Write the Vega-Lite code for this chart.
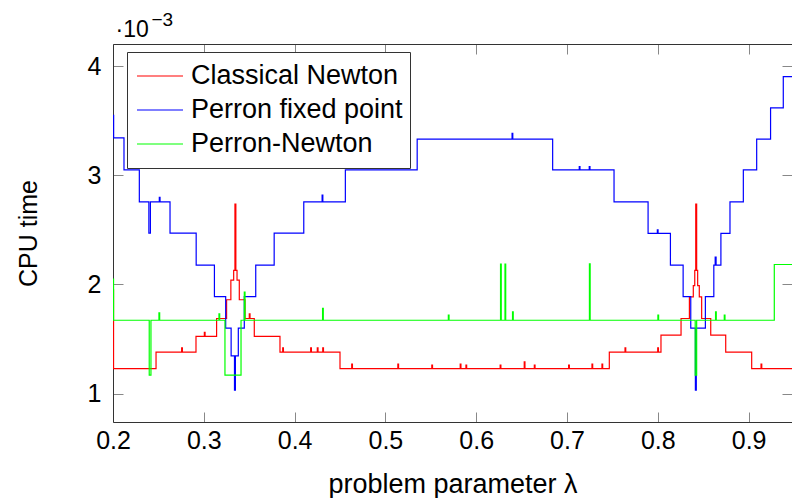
{
  "$schema": "https://vega.github.io/schema/vega-lite/v6.json",
  "width": 679,
  "height": 378,
  "autosize": {"type": "none"},
  "padding": {"left": 113, "top": 44, "right": 0, "bottom": 76},
  "background": "white",
  "view": {"stroke": null},
  "config": {"font": "Liberation Sans"},
  "data": {"values": [
    {"method": "Classical Newton", "lambda": 0.2, "cpu": 0.00195},
    {"method": "Classical Newton", "lambda": 0.2006, "cpu": 0.001229},
    {"method": "Classical Newton", "lambda": 0.2474, "cpu": 0.00138},
    {"method": "Classical Newton", "lambda": 0.2756, "cpu": 0.00142},
    {"method": "Classical Newton", "lambda": 0.2764, "cpu": 0.00138},
    {"method": "Classical Newton", "lambda": 0.2914, "cpu": 0.001525},
    {"method": "Classical Newton", "lambda": 0.3006, "cpu": 0.00156},
    {"method": "Classical Newton", "lambda": 0.3014, "cpu": 0.001525},
    {"method": "Classical Newton", "lambda": 0.3141, "cpu": 0.001688},
    {"method": "Classical Newton", "lambda": 0.3251, "cpu": 0.00186},
    {"method": "Classical Newton", "lambda": 0.3298, "cpu": 0.00204},
    {"method": "Classical Newton", "lambda": 0.3329, "cpu": 0.00213},
    {"method": "Classical Newton", "lambda": 0.3343, "cpu": 0.002737},
    {"method": "Classical Newton", "lambda": 0.3353, "cpu": 0.00213},
    {"method": "Classical Newton", "lambda": 0.3366, "cpu": 0.00204},
    {"method": "Classical Newton", "lambda": 0.3391, "cpu": 0.00186},
    {"method": "Classical Newton", "lambda": 0.3454, "cpu": 0.001688},
    {"method": "Classical Newton", "lambda": 0.3501, "cpu": 0.00173},
    {"method": "Classical Newton", "lambda": 0.3509, "cpu": 0.001688},
    {"method": "Classical Newton", "lambda": 0.3556, "cpu": 0.001525},
    {"method": "Classical Newton", "lambda": 0.3839, "cpu": 0.00138},
    {"method": "Classical Newton", "lambda": 0.3869, "cpu": 0.00142},
    {"method": "Classical Newton", "lambda": 0.3877, "cpu": 0.00138},
    {"method": "Classical Newton", "lambda": 0.4177, "cpu": 0.00142},
    {"method": "Classical Newton", "lambda": 0.4185, "cpu": 0.00138},
    {"method": "Classical Newton", "lambda": 0.425, "cpu": 0.00142},
    {"method": "Classical Newton", "lambda": 0.4258, "cpu": 0.00138},
    {"method": "Classical Newton", "lambda": 0.431, "cpu": 0.00142},
    {"method": "Classical Newton", "lambda": 0.4318, "cpu": 0.00138},
    {"method": "Classical Newton", "lambda": 0.45, "cpu": 0.001229},
    {"method": "Classical Newton", "lambda": 0.4629, "cpu": 0.00127},
    {"method": "Classical Newton", "lambda": 0.4637, "cpu": 0.001229},
    {"method": "Classical Newton", "lambda": 0.5137, "cpu": 0.00127},
    {"method": "Classical Newton", "lambda": 0.5145, "cpu": 0.001229},
    {"method": "Classical Newton", "lambda": 0.5511, "cpu": 0.00126},
    {"method": "Classical Newton", "lambda": 0.5519, "cpu": 0.001229},
    {"method": "Classical Newton", "lambda": 0.5824, "cpu": 0.00127},
    {"method": "Classical Newton", "lambda": 0.5832, "cpu": 0.001229},
    {"method": "Classical Newton", "lambda": 0.5887, "cpu": 0.00126},
    {"method": "Classical Newton", "lambda": 0.5895, "cpu": 0.001229},
    {"method": "Classical Newton", "lambda": 0.6264, "cpu": 0.00126},
    {"method": "Classical Newton", "lambda": 0.6272, "cpu": 0.001229},
    {"method": "Classical Newton", "lambda": 0.6529, "cpu": 0.00129},
    {"method": "Classical Newton", "lambda": 0.6537, "cpu": 0.001229},
    {"method": "Classical Newton", "lambda": 0.664, "cpu": 0.00126},
    {"method": "Classical Newton", "lambda": 0.6648, "cpu": 0.001229},
    {"method": "Classical Newton", "lambda": 0.7018, "cpu": 0.00126},
    {"method": "Classical Newton", "lambda": 0.7026, "cpu": 0.001229},
    {"method": "Classical Newton", "lambda": 0.7275, "cpu": 0.00127},
    {"method": "Classical Newton", "lambda": 0.7283, "cpu": 0.001229},
    {"method": "Classical Newton", "lambda": 0.7385, "cpu": 0.00127},
    {"method": "Classical Newton", "lambda": 0.7393, "cpu": 0.001229},
    {"method": "Classical Newton", "lambda": 0.7466, "cpu": 0.00138},
    {"method": "Classical Newton", "lambda": 0.7639, "cpu": 0.00142},
    {"method": "Classical Newton", "lambda": 0.7647, "cpu": 0.00138},
    {"method": "Classical Newton", "lambda": 0.7999, "cpu": 0.00142},
    {"method": "Classical Newton", "lambda": 0.8007, "cpu": 0.00138},
    {"method": "Classical Newton", "lambda": 0.8035, "cpu": 0.001535},
    {"method": "Classical Newton", "lambda": 0.8256, "cpu": 0.001688},
    {"method": "Classical Newton", "lambda": 0.8348, "cpu": 0.001886},
    {"method": "Classical Newton", "lambda": 0.8391, "cpu": 0.00199},
    {"method": "Classical Newton", "lambda": 0.8407, "cpu": 0.00213},
    {"method": "Classical Newton", "lambda": 0.8418, "cpu": 0.002737},
    {"method": "Classical Newton", "lambda": 0.8428, "cpu": 0.00213},
    {"method": "Classical Newton", "lambda": 0.8439, "cpu": 0.00199},
    {"method": "Classical Newton", "lambda": 0.8457, "cpu": 0.001886},
    {"method": "Classical Newton", "lambda": 0.8483, "cpu": 0.001688},
    {"method": "Classical Newton", "lambda": 0.8583, "cpu": 0.001535},
    {"method": "Classical Newton", "lambda": 0.8748, "cpu": 0.00138},
    {"method": "Classical Newton", "lambda": 0.9034, "cpu": 0.001229},
    {"method": "Classical Newton", "lambda": 0.9137, "cpu": 0.00127},
    {"method": "Classical Newton", "lambda": 0.9145, "cpu": 0.001229},
    {"method": "Classical Newton", "lambda": 0.9478, "cpu": 0.001229},

    {"method": "Perron fixed point", "lambda": 0.2, "cpu": 0.00355},
    {"method": "Perron fixed point", "lambda": 0.2007, "cpu": 0.003345},
    {"method": "Perron fixed point", "lambda": 0.2121, "cpu": 0.00305},
    {"method": "Perron fixed point", "lambda": 0.229, "cpu": 0.002758},
    {"method": "Perron fixed point", "lambda": 0.2395, "cpu": 0.00247},
    {"method": "Perron fixed point", "lambda": 0.2412, "cpu": 0.002758},
    {"method": "Perron fixed point", "lambda": 0.251, "cpu": 0.0028},
    {"method": "Perron fixed point", "lambda": 0.2518, "cpu": 0.002758},
    {"method": "Perron fixed point", "lambda": 0.2628, "cpu": 0.00247},
    {"method": "Perron fixed point", "lambda": 0.2916, "cpu": 0.002177},
    {"method": "Perron fixed point", "lambda": 0.3117, "cpu": 0.001888},
    {"method": "Perron fixed point", "lambda": 0.3241, "cpu": 0.001599},
    {"method": "Perron fixed point", "lambda": 0.3301, "cpu": 0.001345},
    {"method": "Perron fixed point", "lambda": 0.3338, "cpu": 0.00103},
    {"method": "Perron fixed point", "lambda": 0.3348, "cpu": 0.001345},
    {"method": "Perron fixed point", "lambda": 0.338, "cpu": 0.001599},
    {"method": "Perron fixed point", "lambda": 0.3446, "cpu": 0.001888},
    {"method": "Perron fixed point", "lambda": 0.3572, "cpu": 0.002177},
    {"method": "Perron fixed point", "lambda": 0.3775, "cpu": 0.00247},
    {"method": "Perron fixed point", "lambda": 0.4101, "cpu": 0.002758},
    {"method": "Perron fixed point", "lambda": 0.4303, "cpu": 0.00282},
    {"method": "Perron fixed point", "lambda": 0.4311, "cpu": 0.002758},
    {"method": "Perron fixed point", "lambda": 0.4559, "cpu": 0.00305},
    {"method": "Perron fixed point", "lambda": 0.535, "cpu": 0.003333},
    {"method": "Perron fixed point", "lambda": 0.6395, "cpu": 0.003385},
    {"method": "Perron fixed point", "lambda": 0.6403, "cpu": 0.003333},
    {"method": "Perron fixed point", "lambda": 0.6842, "cpu": 0.00305},
    {"method": "Perron fixed point", "lambda": 0.7135, "cpu": 0.00308},
    {"method": "Perron fixed point", "lambda": 0.7143, "cpu": 0.00305},
    {"method": "Perron fixed point", "lambda": 0.7245, "cpu": 0.00308},
    {"method": "Perron fixed point", "lambda": 0.7253, "cpu": 0.00305},
    {"method": "Perron fixed point", "lambda": 0.7518, "cpu": 0.002758},
    {"method": "Perron fixed point", "lambda": 0.7893, "cpu": 0.002468},
    {"method": "Perron fixed point", "lambda": 0.7995, "cpu": 0.0025},
    {"method": "Perron fixed point", "lambda": 0.8003, "cpu": 0.002468},
    {"method": "Perron fixed point", "lambda": 0.8139, "cpu": 0.002177},
    {"method": "Perron fixed point", "lambda": 0.8279, "cpu": 0.001888},
    {"method": "Perron fixed point", "lambda": 0.8363, "cpu": 0.001599},
    {"method": "Perron fixed point", "lambda": 0.8414, "cpu": 0.00103},
    {"method": "Perron fixed point", "lambda": 0.8424, "cpu": 0.001599},
    {"method": "Perron fixed point", "lambda": 0.8524, "cpu": 0.001888},
    {"method": "Perron fixed point", "lambda": 0.8617, "cpu": 0.002177},
    {"method": "Perron fixed point", "lambda": 0.8632, "cpu": 0.00225},
    {"method": "Perron fixed point", "lambda": 0.8642, "cpu": 0.002177},
    {"method": "Perron fixed point", "lambda": 0.8695, "cpu": 0.002468},
    {"method": "Perron fixed point", "lambda": 0.8795, "cpu": 0.002758},
    {"method": "Perron fixed point", "lambda": 0.8942, "cpu": 0.00305},
    {"method": "Perron fixed point", "lambda": 0.9089, "cpu": 0.003333},
    {"method": "Perron fixed point", "lambda": 0.9242, "cpu": 0.00362},
    {"method": "Perron fixed point", "lambda": 0.9382, "cpu": 0.003905},
    {"method": "Perron fixed point", "lambda": 0.9478, "cpu": 0.003905},

    {"method": "Perron-Newton", "lambda": 0.2, "cpu": 0.00205},
    {"method": "Perron-Newton", "lambda": 0.2006, "cpu": 0.001672},
    {"method": "Perron-Newton", "lambda": 0.2399, "cpu": 0.001168},
    {"method": "Perron-Newton", "lambda": 0.2418, "cpu": 0.001672},
    {"method": "Perron-Newton", "lambda": 0.2506, "cpu": 0.00174},
    {"method": "Perron-Newton", "lambda": 0.2514, "cpu": 0.001672},
    {"method": "Perron-Newton", "lambda": 0.3167, "cpu": 0.00173},
    {"method": "Perron-Newton", "lambda": 0.3175, "cpu": 0.001672},
    {"method": "Perron-Newton", "lambda": 0.3233, "cpu": 0.001168},
    {"method": "Perron-Newton", "lambda": 0.341, "cpu": 0.001672},
    {"method": "Perron-Newton", "lambda": 0.3446, "cpu": 0.00193},
    {"method": "Perron-Newton", "lambda": 0.3454, "cpu": 0.001672},
    {"method": "Perron-Newton", "lambda": 0.4308, "cpu": 0.00178},
    {"method": "Perron-Newton", "lambda": 0.4316, "cpu": 0.001672},
    {"method": "Perron-Newton", "lambda": 0.5693, "cpu": 0.00172},
    {"method": "Perron-Newton", "lambda": 0.5701, "cpu": 0.001672},
    {"method": "Perron-Newton", "lambda": 0.6268, "cpu": 0.002186},
    {"method": "Perron-Newton", "lambda": 0.6276, "cpu": 0.001672},
    {"method": "Perron-Newton", "lambda": 0.6317, "cpu": 0.002186},
    {"method": "Perron-Newton", "lambda": 0.6325, "cpu": 0.001672},
    {"method": "Perron-Newton", "lambda": 0.64, "cpu": 0.00175},
    {"method": "Perron-Newton", "lambda": 0.6408, "cpu": 0.001672},
    {"method": "Perron-Newton", "lambda": 0.7247, "cpu": 0.00219},
    {"method": "Perron-Newton", "lambda": 0.7255, "cpu": 0.001672},
    {"method": "Perron-Newton", "lambda": 0.8001, "cpu": 0.00172},
    {"method": "Perron-Newton", "lambda": 0.8009, "cpu": 0.001672},
    {"method": "Perron-Newton", "lambda": 0.8412, "cpu": 0.001168},
    {"method": "Perron-Newton", "lambda": 0.8428, "cpu": 0.001672},
    {"method": "Perron-Newton", "lambda": 0.8636, "cpu": 0.00175},
    {"method": "Perron-Newton", "lambda": 0.8644, "cpu": 0.001672},
    {"method": "Perron-Newton", "lambda": 0.8732, "cpu": 0.00172},
    {"method": "Perron-Newton", "lambda": 0.874, "cpu": 0.001672},
    {"method": "Perron-Newton", "lambda": 0.9283, "cpu": 0.002183},
    {"method": "Perron-Newton", "lambda": 0.9478, "cpu": 0.002183}
  ]},
  "layer": [
    {
      "mark": {"type": "line", "interpolate": "step-after", "strokeWidth": 1.2, "clip": true},
      "encoding": {
        "x": {"field": "lambda", "type": "quantitative",
          "scale": {"domain": [0.2, 0.9478], "nice": false, "zero": false},
          "axis": {"orient": "bottom", "values": [0.2, 0.3, 0.4, 0.5, 0.6, 0.7, 0.8, 0.9], "format": ".1f", "grid": false,
            "tickSize": -10, "tickColor": "#888888", "domainColor": "#333333", "labelFontSize": 25, "labelColor": "black",
            "labelPadding": 16, "labelFlush": false, "labelOverlap": false, "labelBound": false,
            "title": "problem parameter λ", "titleFontSize": 27, "titleFontWeight": "normal", "titleColor": "black",
            "titleX": 339.5, "titleY": 62, "titleBaseline": "middle", "titleAnchor": "middle"}},
        "y": {"field": "cpu", "type": "quantitative",
          "scale": {"domain": [0.000739, 0.004205], "nice": false, "zero": false},
          "axis": {"orient": "left", "values": [0.001, 0.002, 0.003, 0.004], "labelExpr": "format(datum.value*1000,'d')", "grid": false,
            "tickSize": -10, "tickColor": "#888888", "domainColor": "#333333", "labelFontSize": 25, "labelColor": "black",
            "labelPadding": 22, "labelFlush": false, "labelOverlap": false, "labelBound": false,
            "title": "CPU time", "titleFontSize": 25, "titleFontWeight": "normal", "titleColor": "black",
            "titleX": -85, "titleY": 189, "titleBaseline": "middle", "titleAnchor": "middle"}},
        "color": {"field": "method", "type": "nominal",
          "scale": {"domain": ["Classical Newton", "Perron fixed point", "Perron-Newton"], "range": ["#ff0000", "#0000ff", "#00ff00"]},
          "legend": {"orient": "none", "legendX": 14, "legendY": 8, "title": null, "fillColor": "white", "strokeColor": "#333333",
            "padding": 7, "clipHeight": 34, "symbolOffset": 2, "symbolType": "stroke", "symbolSize": 2116, "symbolStrokeWidth": 1.2, "labelFontSize": 27,
            "labelFont": "Liberation Sans", "labelColor": "black", "labelOffset": 7, "rowPadding": 0, "labelLimit": 0, "cornerRadius": 0,
            "labelExpr": "datum.label + '\u2002'"}}
      }
    },
    {
      "mark": {"type": "line", "opacity": 0},
      "encoding": {
        "x": {"field": "lambda", "type": "quantitative",
          "scale": {"domain": [0.2, 0.9478], "nice": false, "zero": false},
          "axis": {"orient": "top", "values": [0.2, 0.3, 0.4, 0.5, 0.6, 0.7, 0.8, 0.9], "labels": false, "grid": false,
            "tickSize": -10, "tickColor": "#888888", "domainColor": "#333333",
            "title": "·10", "titleFontSize": 23, "titleFontWeight": "normal", "titleColor": "black",
            "titleX": 2, "titleY": -8, "titleAlign": "left", "titleAnchor": null, "titleBaseline": "alphabetic", "titleAngle": 0}},
        "y": {"field": "cpu", "type": "quantitative",
          "scale": {"domain": [0.000739, 0.004205], "nice": false, "zero": false},
          "axis": {"orient": "right", "values": [0.001, 0.002, 0.003, 0.004], "labels": false, "grid": false,
            "tickSize": -10, "tickColor": "#888888", "domain": false,
            "title": "−3", "titleFontSize": 19, "titleFontWeight": "normal", "titleColor": "black",
            "titleX": -641, "titleY": -19, "titleAlign": "left", "titleAnchor": null, "titleBaseline": "alphabetic", "titleAngle": 0}}
      }
    }
  ],
  "resolve": {"axis": {"x": "independent", "y": "independent"}}
}
